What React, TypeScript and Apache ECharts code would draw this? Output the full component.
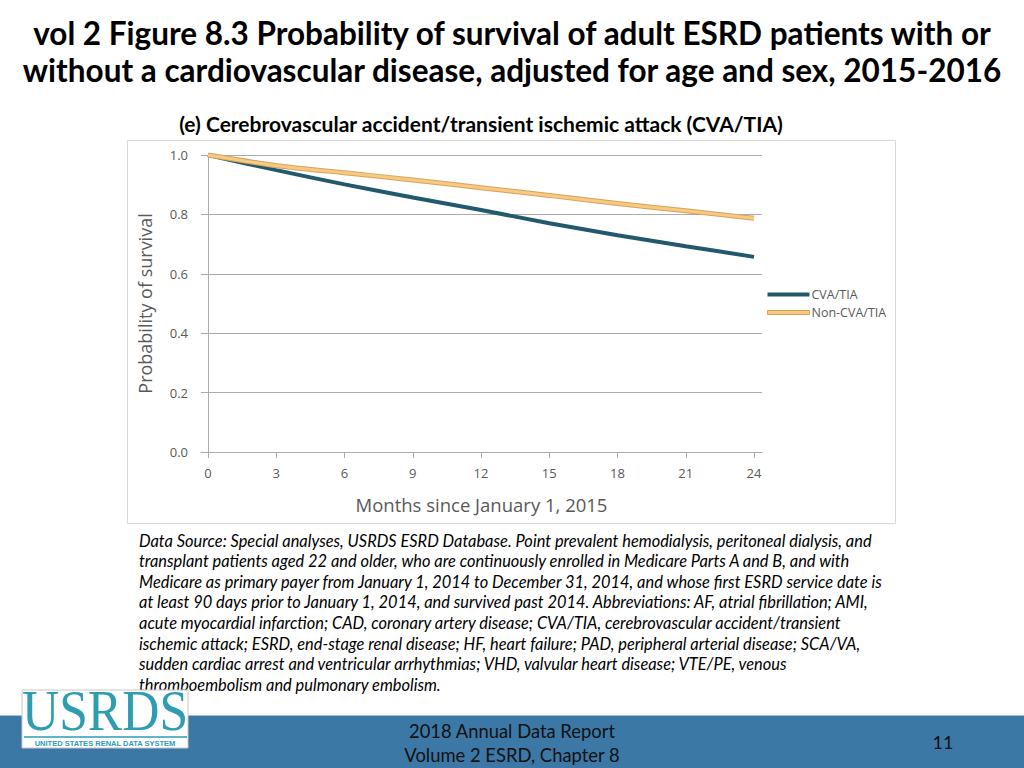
import React, { useEffect, useRef } from "react";
import * as echarts from "echarts";

const months = [0, 3, 6, 9, 12, 15, 18, 21, 24];
const cvaTia = [1.0, 0.949, 0.901, 0.857, 0.815, 0.77, 0.73, 0.693, 0.657];
const nonCvaTia = [1.0, 0.964, 0.94, 0.916, 0.89, 0.864, 0.837, 0.812, 0.787];
const xTicks = [0, 3, 6, 9, 12, 15, 18, 21, 24];
const seriesNames = ["CVA/TIA", "Non-CVA/TIA"];

const titleLines = [
  "vol 2 Figure 8.3 Probability of survival of adult ESRD patients with or",
  "without a cardiovascular disease, adjusted for age and sex, 2015-2016",
];
const subtitle = "(e) Cerebrovascular accident/transient ischemic attack (CVA/TIA)";
const footnoteLines = [
  "Data Source: Special analyses, USRDS ESRD Database. Point prevalent hemodialysis, peritoneal dialysis, and",
  "transplant patients aged 22 and older, who are continuously enrolled in Medicare Parts A and B, and with",
  "Medicare as primary payer from January 1, 2014 to December 31, 2014, and whose first ESRD service date is",
  "at least 90 days prior to January 1, 2014, and survived past 2014. Abbreviations: AF, atrial fibrillation; AMI,",
  "acute myocardial infarction; CAD, coronary artery disease; CVA/TIA, cerebrovascular accident/transient",
  "ischemic attack; ESRD, end-stage renal disease; HF, heart failure; PAD, peripheral arterial disease; SCA/VA,",
  "sudden cardiac arrest and ventricular arrhythmias; VHD, valvular heart disease; VTE/PE, venous",
  "thromboembolism and pulmonary embolism.",
];
const footerLines = ["2018 Annual Data Report", "Volume 2 ESRD, Chapter 8"];
const pageNumber = "11";

const TEAL = "#22596D";
const ORANGE = "#F8C981";
const ORANGE_EDGE = "#D6A35C";
const GRAY_TEXT = "#595959";
const GRID_GRAY = "#ABABAB";
const TITLE_FONT = "Lato";
const AXIS_FONT = "Open Sans";
const LOGO_TEAL = "#2E9DB2";

export default function App() {
  const ref = useRef<HTMLDivElement>(null);
  useEffect(() => {
    const chart = echarts.init(ref.current!, null, { renderer: "svg" });
    const cvaData = months.map((m, i) => [m, cvaTia[i]]);
    const nonData = months.map((m, i) => [m, nonCvaTia[i]]);
    const graphics: any[] = [
      {
        type: "rect",
        shape: { x: 127.5, y: 140.5, width: 768, height: 383 },
        style: { fill: "none", stroke: "#D9D9D9", lineWidth: 1 },
        z: -1,
      },
      ...titleLines.map((t, i) => ({
        type: "text",
        x: 512,
        y: 33 + i * 37,
        style: {
          text: t,
          fill: "#000",
          font: `bold 31.5px ${TITLE_FONT}`,
          align: "center",
          verticalAlign: "middle",
        },
      })),
      {
        type: "text",
        x: 481,
        y: 123,
        style: {
          text: subtitle,
          fill: "#000",
          font: `bold 21px ${TITLE_FONT}`,
          align: "center",
          verticalAlign: "middle",
        },
      },
      ...footnoteLines.map((t, i) => ({
        type: "text",
        x: 139,
        y: 540 + i * 20.6,
        style: {
          text: t,
          fill: "#000",
          font: `italic 16.4px ${TITLE_FONT}`,
          align: "left",
          verticalAlign: "middle",
        },
      })),
      {
        type: "rect",
        shape: { x: 0, y: 716, width: 1024, height: 52 },
        style: { fill: "#3B78A6" },
      },
      {
        type: "line",
        shape: { x1: 0, y1: 715.5, x2: 1024, y2: 715.5 },
        style: { stroke: "#9CC0DA", lineWidth: 1 },
      },
      ...footerLines.map((t, i) => ({
        type: "text",
        x: 512,
        y: 731 + i * 24,
        style: {
          text: t,
          fill: "#111",
          font: `18.4px ${TITLE_FONT}`,
          align: "center",
          verticalAlign: "middle",
        },
      })),
      {
        type: "text",
        x: 943,
        y: 742,
        style: {
          text: pageNumber,
          fill: "#111",
          font: `18px ${TITLE_FONT}`,
          align: "center",
          verticalAlign: "middle",
        },
      },
      {
        type: "rect",
        shape: { x: 22, y: 690, width: 166, height: 58 },
        style: { fill: "#fff", stroke: "#C8C8C8", lineWidth: 1 },
      },
      {
        type: "text",
        x: 105,
        y: 711,
        scaleX: 0.92,
        style: {
          text: "USRDS",
          fill: LOGO_TEAL,
          font: `56px "Liberation Serif"`,
          lineHeight: 40,
          align: "center",
          verticalAlign: "middle",
        },
      },
      {
        type: "line",
        shape: { x1: 24, y1: 737, x2: 187, y2: 737 },
        style: { stroke: LOGO_TEAL, lineWidth: 1.5 },
      },
      {
        type: "text",
        x: 105,
        y: 743,
        style: {
          text: "UNITED STATES RENAL DATA SYSTEM",
          fill: LOGO_TEAL,
          font: `bold 7.5px "Liberation Sans"`,
          lineHeight: 8,
          align: "center",
          verticalAlign: "middle",
        },
      },
    ];

    chart.setOption({
      animation: false,
      grid: { left: 201, right: 262, top: 155, bottom: 316, containLabel: false },
      legend: {
        left: 762,
        top: 283,
        orient: "vertical",
        icon: "rect",
        itemWidth: 42,
        itemHeight: 4,
        itemGap: 5,
        selectedMode: false,
        textStyle: { color: GRAY_TEXT, fontSize: 12.5, fontFamily: AXIS_FONT, padding: [0, 0, 0, -3] },
        data: [
          { name: seriesNames[0], itemStyle: { color: TEAL } },
          {
            name: seriesNames[1],
            itemStyle: { color: ORANGE, borderColor: ORANGE_EDGE, borderWidth: 1 },
          },
        ],
      },
      xAxis: {
        type: "value",
        min: -0.31,
        max: 24.35,
        name: "Months since January 1, 2015",
        nameLocation: "middle",
        nameGap: 43,
        nameTextStyle: { color: GRAY_TEXT, fontSize: 18.5, fontFamily: AXIS_FONT },
        axisLine: { show: true, lineStyle: { color: GRID_GRAY, width: 1 } },
        axisTick: { show: true, customValues: xTicks, length: 6, lineStyle: { color: GRID_GRAY } },
        axisLabel: {
          customValues: xTicks,
          color: GRAY_TEXT,
          fontSize: 13,
          fontFamily: AXIS_FONT,
          margin: 14,
        },
        splitLine: { show: false },
      },
      yAxis: {
        type: "value",
        min: 0,
        max: 1,
        interval: 0.2,
        name: "Probability of survival",
        nameLocation: "middle",
        nameGap: 47,
        nameRotate: 90,
        nameTextStyle: { color: GRAY_TEXT, fontSize: 18, fontFamily: AXIS_FONT },
        axisLine: { show: true, lineStyle: { color: GRID_GRAY, width: 1 } },
        axisTick: { show: true, length: 6, lineStyle: { color: GRID_GRAY } },
        axisLabel: {
          formatter: (v: number) => v.toFixed(1),
          color: GRAY_TEXT,
          fontSize: 13,
          fontFamily: AXIS_FONT,
          margin: 13,
        },
        splitLine: { show: true, lineStyle: { color: GRID_GRAY, width: 1 } },
      },
      graphic: graphics,
      series: [
        {
          name: seriesNames[0],
          type: "line",
          data: cvaData,
          showSymbol: false,
          smooth: 0.2,
          lineStyle: { color: TEAL, width: 4 },
          itemStyle: { color: TEAL },
          z: 3,
        },
        {
          name: seriesNames[1] + " edge",
          type: "line",
          data: nonData,
          showSymbol: false,
          smooth: 0.2,
          lineStyle: { color: ORANGE_EDGE, width: 5 },
          z: 4,
        },
        {
          name: seriesNames[1],
          type: "line",
          data: nonData,
          showSymbol: false,
          smooth: 0.2,
          lineStyle: { color: ORANGE, width: 3 },
          itemStyle: { color: ORANGE },
          z: 5,
        },
      ],
    });
    return () => chart.dispose();
  }, []);
  return (
    <div
      ref={ref}
      style={{ position: "fixed", left: 0, top: 0, width: 1024, height: 768, background: "#fff" }}
    />
  );
}
